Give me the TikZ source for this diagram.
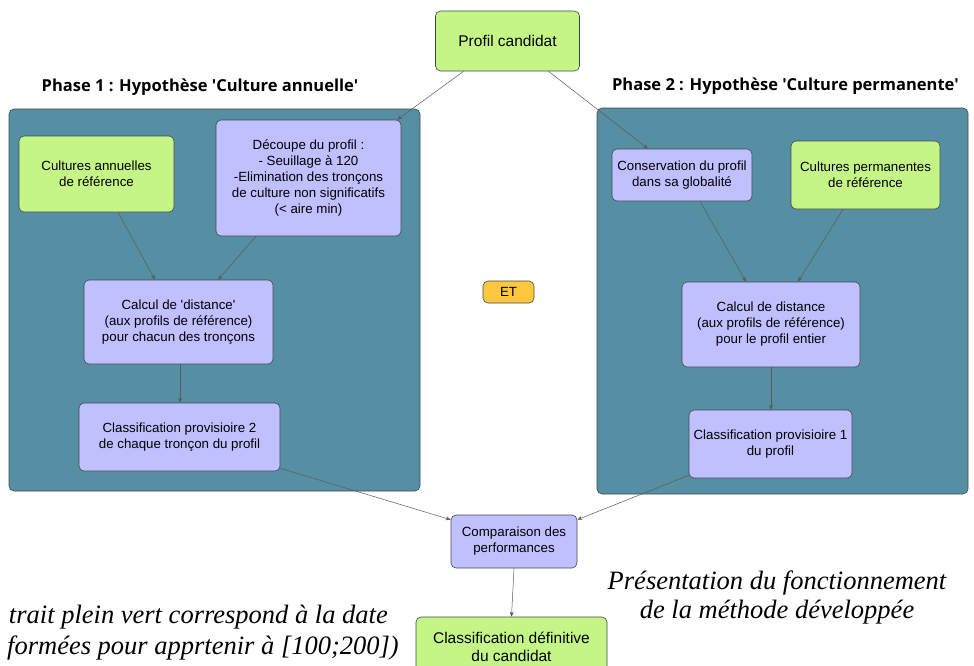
\documentclass[tikz,border=0pt]{standalone}
\usepackage{fontspec}
\usepackage{tikz}
\usetikzlibrary{arrows.meta}
\setmainfont{Liberation Sans}
\newfontfamily\titlefont{Open Sans}
\newfontfamily\notefont{Liberation Serif}
\definecolor{FlowGreen}{HTML}{C4F586}
\definecolor{FlowLilac}{HTML}{C0BFFF}
\definecolor{FlowTeal}{HTML}{568FA3}
\definecolor{FlowOrange}{HTML}{FFC73D}
\definecolor{FlowEdge}{HTML}{3F4A4F}
\definecolor{FlowLine}{HTML}{5A5A5A}
\newcommand{\sq}{\textquotesingle}

\begin{document}
\begin{tikzpicture}[x=1pt,y=-1pt,
  box/.style={draw=FlowEdge,line width=.6pt,rounded corners=5pt,align=center,inner sep=0pt,font=\fontsize{13.3}{16}\selectfont},
  bigbox/.style={font=\fontsize{15.5}{18}\selectfont},
  greenbox/.style={box,fill=FlowGreen},
  lilacbox/.style={box,fill=FlowLilac},
  panel/.style={draw=FlowEdge,fill=FlowTeal,line width=.6pt,rounded corners=5pt},
  phase/.style={font=\titlefont\bfseries\fontsize{16.5}{20}\selectfont},
  note/.style={font=\notefont\itshape\fontsize{26.5}{29}\selectfont,inner sep=0pt},
  link/.style={FlowLine,line width=.5pt,-{Stealth[length=5pt,width=4pt]}}]
\useasboundingbox (0,0) rectangle (974,665);
\clip (0,0) rectangle (974,665);
\fill[white] (0,0) rectangle (974,665);
\draw[panel] (9,109) rectangle (420,491);
\draw[panel] (597,108) rectangle (968,494);
\node[phase] (title1) at (200,87) {Phase 1 : Hypothèse \sq Culture annuelle\sq};
\node[phase] (title2) at (785.5,86) {Phase 2 : Hypothèse \sq Culture permanente\sq};
\node[greenbox,bigbox,minimum width=144pt,minimum height=60pt] (profil) at (507.5,41) {Profil candidat};
\node[greenbox,minimum width=155pt,minimum height=76pt] (annu) at (96.5,174) {Cultures annuelles\\de référence};
\node[lilacbox,minimum width=185pt,minimum height=116pt] (decoupe) at (308.5,178) {Découpe du profil :\\- Seuillage à 120\\-Elimination des tronçons\\de culture non significatifs\\(< aire min)};
\node[lilacbox,minimum width=189pt,minimum height=84pt] (calcA) at (178.5,322) {Calcul de \sq distance\sq\\(aux profils de référence)\\pour chacun des tronçons};
\node[lilacbox,minimum width=201pt,minimum height=68pt] (classA) at (179.5,437) {Classification provisioire 2\\de chaque tronçon du profil};
\node[lilacbox,minimum width=140pt,minimum height=52pt] (conserv) at (682,175) {Conservation du profil\\dans sa globalité};
\node[greenbox,minimum width=149pt,minimum height=68pt] (perm) at (865.5,175) {Cultures permanentes\\de référence};
\node[lilacbox,minimum width=178pt,minimum height=85pt] (calcP) at (771,324.5) {Calcul de distance\\(aux profils de référence)\\pour le profil entier};
\node[lilacbox,minimum width=163pt,minimum height=68pt] (classP) at (770.5,444) {Classification provisioire 1\\du profil};
\node[box,fill=FlowOrange,minimum width=51pt,minimum height=22pt] (et) at (508.5,292) {ET};
\node[lilacbox,minimum width=126pt,minimum height=53pt] (compar) at (514,541.5) {Comparaison des\\performances};
\node[greenbox,bigbox,minimum width=191pt,minimum height=60pt] (finale) at (511.5,647) {Classification définitive\\du candidat};
\node[note,anchor=east] (noteA) at (388,617) {trait plein vert correspond à la date};
\node[note,anchor=east] (noteB) at (399,648) {formées pour apprtenir à [100;200])};
\node[note,align=center] (noteC) at (777,597) {Présentation du fonctionnement\\de la méthode développée};
\draw[link] ([xshift=-44pt]profil.south) -- ([xshift=-4pt]decoupe.north east);
\draw[link] ([xshift=41pt]profil.south) -- ([xshift=-34pt]conserv.north);
\draw[link] ([xshift=21.5pt]annu.south) -- ([xshift=-23.5pt]calcA.north);
\draw[link] ([xshift=-52.5pt]decoupe.south) -- ([xshift=39.5pt]calcA.north);
\draw[link] ([xshift=1.5pt]calcA.south) -- ([xshift=.5pt]classA.north);
\draw[link] ([yshift=3pt]classA.south east) -- ([yshift=-5pt]compar.north west);
\draw[link] ([xshift=18pt]conserv.south) -- ([xshift=-25pt]calcP.north);
\draw[link] ([xshift=-22.5pt]perm.south) -- ([xshift=27pt]calcP.north);
\draw[link] (calcP.south) -- ([xshift=.5pt]classP.north);
\draw[link] ([yshift=3pt]classP.south west) -- ([yshift=-5pt]compar.north east);
\draw[link] (compar.south) -- (finale.north);
\end{tikzpicture}
\end{document}
